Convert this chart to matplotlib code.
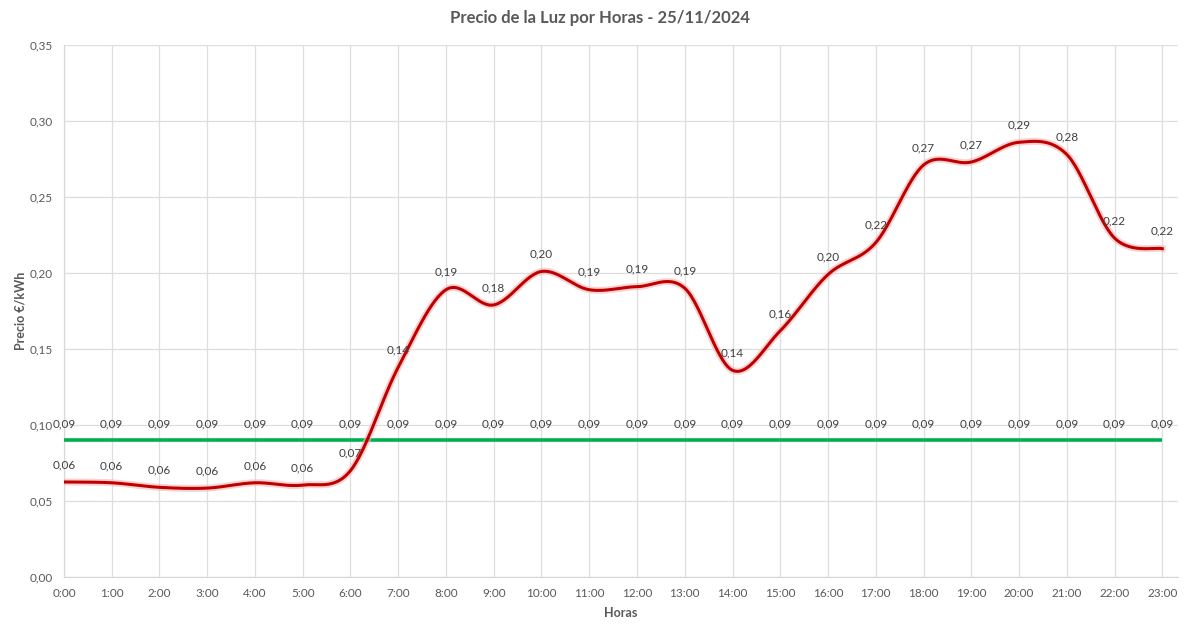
import numpy as np
import matplotlib
matplotlib.use("Agg")
import matplotlib.pyplot as plt

plt.rcParams['font.family'] = ['Lato', 'DejaVu Sans']

horas = [f"{h}:00" for h in range(24)]
precio = [0.0625, 0.062, 0.059, 0.0585, 0.062, 0.0605, 0.070, 0.138,
          0.189, 0.179, 0.201, 0.189, 0.191, 0.190, 0.136, 0.162,
          0.199, 0.220, 0.271, 0.273, 0.286, 0.278, 0.223, 0.216]
referencia = [0.09] * 24
y_ticks = [0.00, 0.05, 0.10, 0.15, 0.20, 0.25, 0.30, 0.35]

def fmt(v):
    return f"{v:.2f}".replace(".", ",")

def smooth(x, y, n=30):
    x = np.asarray(x, float); y = np.asarray(y, float)
    px = np.concatenate([[x[0]], x, [x[-1]]])
    py = np.concatenate([[y[0]], y, [y[-1]]])
    xs, ys = [], []
    t = np.linspace(0, 1, n, endpoint=False)
    for i in range(1, len(px) - 2):
        p0, p1, p2, p3 = py[i-1], py[i], py[i+1], py[i+2]
        q0, q1, q2, q3 = px[i-1], px[i], px[i+1], px[i+2]
        c1y = p1 + (p2 - p0) / 6; c2y = p2 - (p3 - p1) / 6
        c1x = q1 + (q2 - q0) / 6; c2x = q2 - (q3 - q1) / 6
        b0 = (1-t)**3; b1 = 3*(1-t)**2*t; b2 = 3*(1-t)*t**2; b3 = t**3
        xs.append(b0*q1 + b1*c1x + b2*c2x + b3*q2)
        ys.append(b0*p1 + b1*c1y + b2*c2y + b3*p2)
    xs.append([x[-1]]); ys.append([y[-1]])
    return np.concatenate(xs), np.concatenate(ys)

fig = plt.figure(figsize=(12, 6.32), dpi=100)
ax = fig.add_axes([0.0533, 0.087, 0.9284, 0.8418])

x = np.arange(len(horas))
sx, sy = smooth(x, precio)
ax.plot(x, referencia, color="#00B050", lw=2.6, zorder=3, solid_capstyle="butt")
ax.plot(sx, sy, color="#F4B6B6", lw=5, zorder=4, alpha=0.6)
ax.plot(sx, sy, color="#C00000", lw=2.2, zorder=5)

lab_color = "#404040"
for xi, v in zip(x, precio):
    ax.annotate(fmt(v), (xi, v), xytext=(0, 8.5), textcoords="offset points",
                ha="center", va="bottom", fontsize=8.5, color=lab_color, zorder=6)
for xi, v in zip(x, referencia):
    ax.annotate(fmt(v), (xi, v), xytext=(0, 8.0), textcoords="offset points",
                ha="center", va="bottom", fontsize=8.5, color=lab_color, zorder=6)

ax.set_xlim(0, 23.33)
ax.set_ylim(0, 0.35)
ax.set_xticks(x)
ax.set_xticklabels(horas)
ax.set_yticks(y_ticks)
ax.set_yticklabels([fmt(v) for v in y_ticks])
ax.tick_params(axis="both", length=0, labelsize=8.5, colors="#595959", pad=8)
ax.grid(True, color="#DEDEDE", lw=0.9)
ax.set_axisbelow(True)
for s in ["top", "right"]:
    ax.spines[s].set_visible(False)
for s in ["left", "bottom"]:
    ax.spines[s].set_color("#D9D9D9")
    ax.spines[s].set_linewidth(0.9)

ax.set_xlabel("Horas", fontsize=9, fontweight="bold", color="#595959", labelpad=6)
ax.set_ylabel("Precio €/kWh", fontsize=9, fontweight="bold", color="#595959", labelpad=2)
fig.text(0.5, 0.972, "Precio de la Luz por Horas - 25/11/2024", ha="center", va="center",
         fontsize=12, fontweight="bold", color="#595959")

fig.savefig("out.png", dpi=100, facecolor="white")
